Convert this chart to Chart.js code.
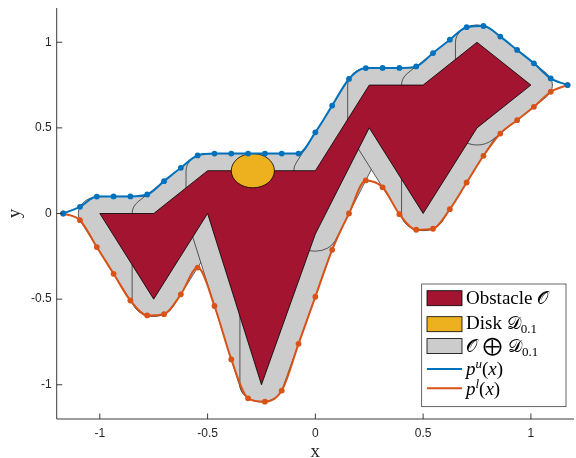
<!DOCTYPE html>
<html>
<head>
<meta charset="utf-8">
<script src="https://cdn.jsdelivr.net/npm/chart.js@4.4.1/dist/chart.umd.min.js"></script>
<style>
  html, body { margin: 0; padding: 0; background: #fff; overflow: hidden; }
  canvas { display: block; }
</style>
</head>
<body>
<canvas id="plot" width="578" height="458"></canvas>
<script>
// sample points of the upper / lower boundary curves
const xNodes = [-1.17, -1.092, -1.014, -0.936, -0.858, -0.78, -0.702, -0.624, -0.546, -0.468,
  -0.39, -0.312, -0.234, -0.156, -0.078, 0, 0.078, 0.156, 0.234, 0.312,
  0.39, 0.468, 0.546, 0.624, 0.702, 0.78, 0.858, 0.936, 1.014, 1.092, 1.17];
const upperY = [0, 0.039, 0.099, 0.1, 0.1, 0.111, 0.189, 0.267, 0.339, 0.35,
  0.35, 0.35, 0.35, 0.35, 0.35, 0.474, 0.63, 0.786, 0.849, 0.85,
  0.85, 0.859, 0.937, 1.015, 1.088, 1.095, 1.033, 0.955, 0.877, 0.789, 0.75];
const lowerY = [0, -0.039, -0.196, -0.352, -0.508, -0.595, -0.588, -0.472, -0.316, -0.54,
  -0.852, -1.079, -1.099, -1.034, -0.761, -0.486, -0.212, 0, 0.193, 0.153,
  -0.004, -0.095, -0.089, 0.025, 0.181, 0.337, 0.467, 0.545, 0.623, 0.711, 0.75];

// obstacle outline (closed)
const obstacleX = [-1, -0.75, -0.5, 0, 0.25, 0.5, 0.75, 1, 0.75, 0.5, 0.25, 0, -0.25, -0.5, -0.75, -1];
const obstacleY = [0, 0, 0.25, 0.25, 0.75, 0.75, 1, 0.75, 0.5, 0, 0.5, -0.12, -1, 0, -0.5, 0];

// vertical strips of the obstacle; each one is swept by the disk
const cells = [
  [[-1, 0], [-0.75, -0.5], [-0.75, 0]],
  [[-0.75, -0.5], [-0.5, 0], [-0.5, 0.25], [-0.75, 0]],
  [[-0.5, 0], [-0.25, -1], [-0.25, 0.25], [-0.5, 0.25]],
  [[-0.25, -1], [0, -0.12], [0, 0.25], [-0.25, 0.25]],
  [[0, -0.12], [0.25, 0.5], [0.25, 0.75], [0, 0.25]],
  [[0.25, 0.5], [0.5, 0], [0.5, 0.75], [0.25, 0.75]],
  [[0.5, 0], [0.75, 0.5], [0.75, 1], [0.5, 0.75]],
  [[0.75, 0.5], [1, 0.75], [0.75, 1]]
];

const diskCenter = [-0.29, 0.25];
const diskRadius = 0.1;

const xTicks = [-1, -0.5, 0, 0.5, 1];
const yTicks = [-1, -0.5, 0, 0.5, 1];
const xTickLabels = ['-1', '-0.5', '0', '0.5', '1'];
const yTickLabels = ['-1', '-0.5', '0', '0.5', '1'];

const RED = '#a2142f', YELLOW = '#edb120', GREY = '#cccccc', BLUE = '#0072bd', ORANGE = '#d95319';
const AXIS = '#262626';

// run a path builder with the context mapped to data units
function inDataSpace(chart, ctx, build) {
  const sx = chart.scales.x, sy = chart.scales.y;
  const x0 = sx.getPixelForValue(0), y0 = sy.getPixelForValue(0);
  ctx.save();
  ctx.translate(x0, y0);
  ctx.scale(sx.getPixelForValue(1) - x0, sy.getPixelForValue(1) - y0);
  build();
  ctx.restore();
}

// outline of a convex cell grown by radius r
function cellPath(ctx, cell, r) {
  let pts = cell.slice();
  let area = 0;
  for (let i = 0; i < pts.length; i++) {
    const a = pts[i], b = pts[(i + 1) % pts.length];
    area += a[0] * b[1] - b[0] * a[1];
  }
  if (area < 0) pts.reverse();
  const n = pts.length;
  ctx.beginPath();
  for (let i = 0; i < n; i++) {
    const p0 = pts[(i - 1 + n) % n], p1 = pts[i], p2 = pts[(i + 1) % n];
    const a0 = Math.atan2(-(p1[0] - p0[0]), p1[1] - p0[1]);
    const a1 = Math.atan2(-(p2[0] - p1[0]), p2[1] - p1[1]);
    let d = a1 - a0;
    while (d < 0) d += 2 * Math.PI;
    ctx.arc(p1[0], p1[1], r, a0, a0 + d, false);
  }
  ctx.closePath();
}

function drawRun(ctx, x, y, parts) {
  parts.forEach(([text, font, dy]) => {
    ctx.font = font;
    ctx.fillText(text, x, y + (dy || 0));
    x += ctx.measureText(text).width;
  });
}

const rm = '19px "Liberation Serif"';
const it = 'italic 19px "Liberation Serif"';
const sub = '13px "Liberation Serif"';
const subIt = 'italic 13px "Liberation Serif"';
const scr = '18px "DejaVu Serif"';
const op = '19px "DejaVu Sans"';

const sweepPlugin = {
  id: 'sweep',
  beforeDatasetsDraw(chart) {
    const ctx = chart.ctx, a = chart.chartArea;
    ctx.save();
    ctx.beginPath();
    ctx.rect(a.left, a.top, a.right - a.left, a.bottom - a.top);
    ctx.clip();
    cells.forEach(cell => {
      inDataSpace(chart, ctx, () => cellPath(ctx, cell, diskRadius));
      ctx.fillStyle = GREY;
      ctx.fill();
      ctx.lineWidth = 0.6;
      ctx.strokeStyle = '#000';
      ctx.stroke();
    });
    ctx.restore();
  },
  afterDatasetDraw(chart, args) {
    if (args.index !== 2) return;
    const ctx = chart.ctx;
    ctx.save();
    inDataSpace(chart, ctx, () => {
      ctx.beginPath();
      ctx.arc(diskCenter[0], diskCenter[1], diskRadius, 0, 2 * Math.PI);
      ctx.closePath();
    });
    ctx.fillStyle = YELLOW;
    ctx.fill();
    ctx.lineWidth = 0.8;
    ctx.strokeStyle = '#000';
    ctx.stroke();
    ctx.restore();
  },
  afterDraw(chart) {
    const ctx = chart.ctx, a = chart.chartArea;
    const sx = chart.scales.x, sy = chart.scales.y;
    ctx.save();
    // axes with inward ticks
    ctx.strokeStyle = AXIS;
    ctx.lineWidth = 0.9;
    ctx.beginPath();
    ctx.moveTo(a.left, a.top);
    ctx.lineTo(a.left, a.bottom);
    ctx.lineTo(a.right, a.bottom);
    xTicks.forEach(v => {
      const p = sx.getPixelForValue(v);
      ctx.moveTo(p, a.bottom);
      ctx.lineTo(p, a.bottom - 5.5);
    });
    yTicks.forEach(v => {
      const p = sy.getPixelForValue(v);
      ctx.moveTo(a.left, p);
      ctx.lineTo(a.left + 5.5, p);
    });
    ctx.stroke();

    ctx.fillStyle = AXIS;
    ctx.font = '12px "Liberation Sans"';
    ctx.textAlign = 'center';
    ctx.textBaseline = 'middle';
    xTicks.forEach((v, i) => ctx.fillText(xTickLabels[i], sx.getPixelForValue(v), a.bottom + 14.5));
    ctx.textAlign = 'right';
    yTicks.forEach((v, i) => ctx.fillText(yTickLabels[i], a.left - 5, sy.getPixelForValue(v)));

    // axis titles
    ctx.font = '19px "Liberation Serif"';
    ctx.textAlign = 'center';
    ctx.textBaseline = 'alphabetic';
    ctx.fillText('x', sx.getPixelForValue(0), 456.5);
    ctx.save();
    ctx.translate(20, sy.getPixelForValue(0));
    ctx.rotate(-Math.PI / 2);
    ctx.fillText('y', 0, 0);
    ctx.restore();

    // legend
    const L = 421.7, T = 284, W = 144.3, H = 122.7;
    ctx.fillStyle = '#fff';
    ctx.fillRect(L, T, W, H);
    ctx.strokeStyle = AXIS;
    ctx.lineWidth = 0.7;
    ctx.strokeRect(L, T, W, H);

    const swatches = [[RED, 290.7], [YELLOW, 316.7], [GREY, 338.6]];
    swatches.forEach(([c, y]) => {
      ctx.fillStyle = c;
      ctx.fillRect(427, y, 35, 15);
      ctx.strokeStyle = '#000';
      ctx.lineWidth = 0.8;
      ctx.strokeRect(427, y, 35, 15);
    });
    [[BLUE, 369], [ORANGE, 388.3]].forEach(([c, y]) => {
      ctx.strokeStyle = c;
      ctx.lineWidth = 2;
      ctx.beginPath();
      ctx.moveTo(427, y);
      ctx.lineTo(462, y);
      ctx.stroke();
    });

    ctx.fillStyle = '#000';
    ctx.textAlign = 'left';
    ctx.textBaseline = 'alphabetic';
    const tx = 466;
    drawRun(ctx, tx, 304, [['Obstacle ', rm], ['\u{1D4AA}', scr]]);
    drawRun(ctx, tx, 328.5, [['Disk ', rm], ['\u{1D49F}', scr], ['0.1', sub, 4]]);
    drawRun(ctx, tx, 351.5, [['\u{1D4AA}', scr], [' \u2A01 ', op], ['\u{1D49F}', scr], ['0.1', sub, 4]]);
    drawRun(ctx, tx, 375, [['p', it], ['u', subIt, -7], ['(', rm], ['x', it], [')', rm]]);
    drawRun(ctx, tx, 394.5, [['p', it], ['l', subIt, -7], ['(', rm], ['x', it], [')', rm]]);
    ctx.restore();
  }
};

new Chart(document.getElementById('plot'), {
  type: 'scatter',
  data: {
    datasets: [
      {
        label: 'upper',
        data: xNodes.map((x, i) => ({ x, y: upperY[i] })),
        showLine: true,
        borderColor: BLUE,
        backgroundColor: BLUE,
        borderWidth: 2,
        pointRadius: 2.9,
        pointBorderWidth: 0,
        cubicInterpolationMode: 'monotone',
        order: 0
      },
      {
        label: 'lower',
        data: xNodes.map((x, i) => ({ x, y: lowerY[i] })),
        showLine: true,
        borderColor: ORANGE,
        backgroundColor: ORANGE,
        borderWidth: 2,
        pointRadius: 2.9,
        pointBorderWidth: 0,
        cubicInterpolationMode: 'monotone',
        order: 1
      },
      {
        label: 'obstacle',
        data: obstacleX.map((x, i) => ({ x, y: obstacleY[i] })),
        showLine: true,
        fill: 'shape',
        backgroundColor: RED,
        borderColor: '#000',
        borderWidth: 0.8,
        pointRadius: 0,
        tension: 0,
        order: 2
      }
    ]
  },
  options: {
    responsive: false,
    animation: false,
    devicePixelRatio: 1,
    events: [],
    layout: { padding: { left: 56.7, right: 1, top: 8, bottom: 39 } },
    scales: {
      x: { type: 'linear', min: -1.2, max: 1.2, display: false },
      y: { type: 'linear', min: -1.2, max: 1.2, display: false }
    },
    plugins: { legend: { display: false }, tooltip: { enabled: false } }
  },
  plugins: [sweepPlugin]
});
</script>
</body>
</html>
